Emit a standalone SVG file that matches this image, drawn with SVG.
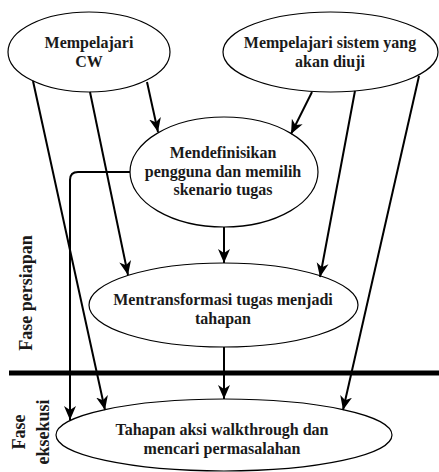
<svg xmlns="http://www.w3.org/2000/svg" width="439" height="472" viewBox="0 0 439 472">
<style>
.node ellipse{fill:#fff;stroke:#000;stroke-width:1.2}
text{font-family:'Liberation Serif','Times New Roman',serif;font-weight:bold;font-size:16px;fill:#1a1a1a;text-anchor:middle}
.side{font-size:18px}
.conn{fill:none;stroke:#000;stroke-width:2}
</style>
<defs>
<marker id="arr" markerUnits="userSpaceOnUse" markerWidth="16" markerHeight="16" viewBox="0 0 16 16" refX="14" refY="8" orient="auto">
<path d="M0,2 L14,8 L0,14 L4,8 Z" fill="#000"/>
</marker>
</defs>
<rect width="439" height="472" fill="#fff"/>
<g id="nodes">
<g id="n-cw" class="node"><ellipse cx="89" cy="52" rx="81" ry="40"/><text x="89" y="48">Mempelajari</text><text x="89" y="67">CW</text></g>
<g id="n-sistem" class="node"><ellipse cx="330.5" cy="52" rx="107.5" ry="40"/><text x="330" y="48">Mempelajari sistem yang</text><text x="330" y="67">akan diuji</text></g>
<g id="n-def" class="node"><ellipse cx="224" cy="172" rx="94" ry="55"/><text x="223" y="158">Mendefinisikan</text><text x="223" y="176.5">pengguna dan memilih</text><text x="223" y="195">skenario tugas</text></g>
<g id="n-trans" class="node"><ellipse cx="223.5" cy="305" rx="134.5" ry="42"/><text x="223" y="305">Mentransformasi tugas menjadi</text><text x="223" y="324">tahapan</text></g>
<g id="n-tahapan" class="node"><ellipse cx="224" cy="435" rx="168" ry="36"/><text x="222" y="435">Tahapan aksi walkthrough dan</text><text x="222" y="454">mencari permasalahan</text></g>
</g>
<g id="phase">
<line x1="9" y1="373" x2="439" y2="373" stroke="#000" stroke-width="5"/>
<text class="side" transform="translate(32,293) rotate(-90)">Fase persiapan</text>
<text class="side" transform="translate(25,432) rotate(-90)">Fase</text>
<text class="side" transform="translate(49,432) rotate(-90)">eksekusi</text>
</g>
<g id="connectors" class="conn">
<path class="conn" d="M147,82 L158,132" marker-end="url(#arr)"/>
<path class="conn" d="M312,92 L291,134" marker-end="url(#arr)"/>
<path class="conn" d="M90,92 L128,275" marker-end="url(#arr)"/>
<path class="conn" d="M355,91 L320,277" marker-end="url(#arr)"/>
<path class="conn" d="M33,81 L105,410" marker-end="url(#arr)"/>
<path class="conn" d="M419,76 L343,410" marker-end="url(#arr)"/>
<path class="conn" d="M224,227 L224,263" marker-end="url(#arr)"/>
<path class="conn" d="M224,347 L224,399" marker-end="url(#arr)"/>
<path class="conn" d="M130,172 L78,172 Q70,172 70,180 L70,420" marker-end="url(#arr)"/>
</g>
</svg>
